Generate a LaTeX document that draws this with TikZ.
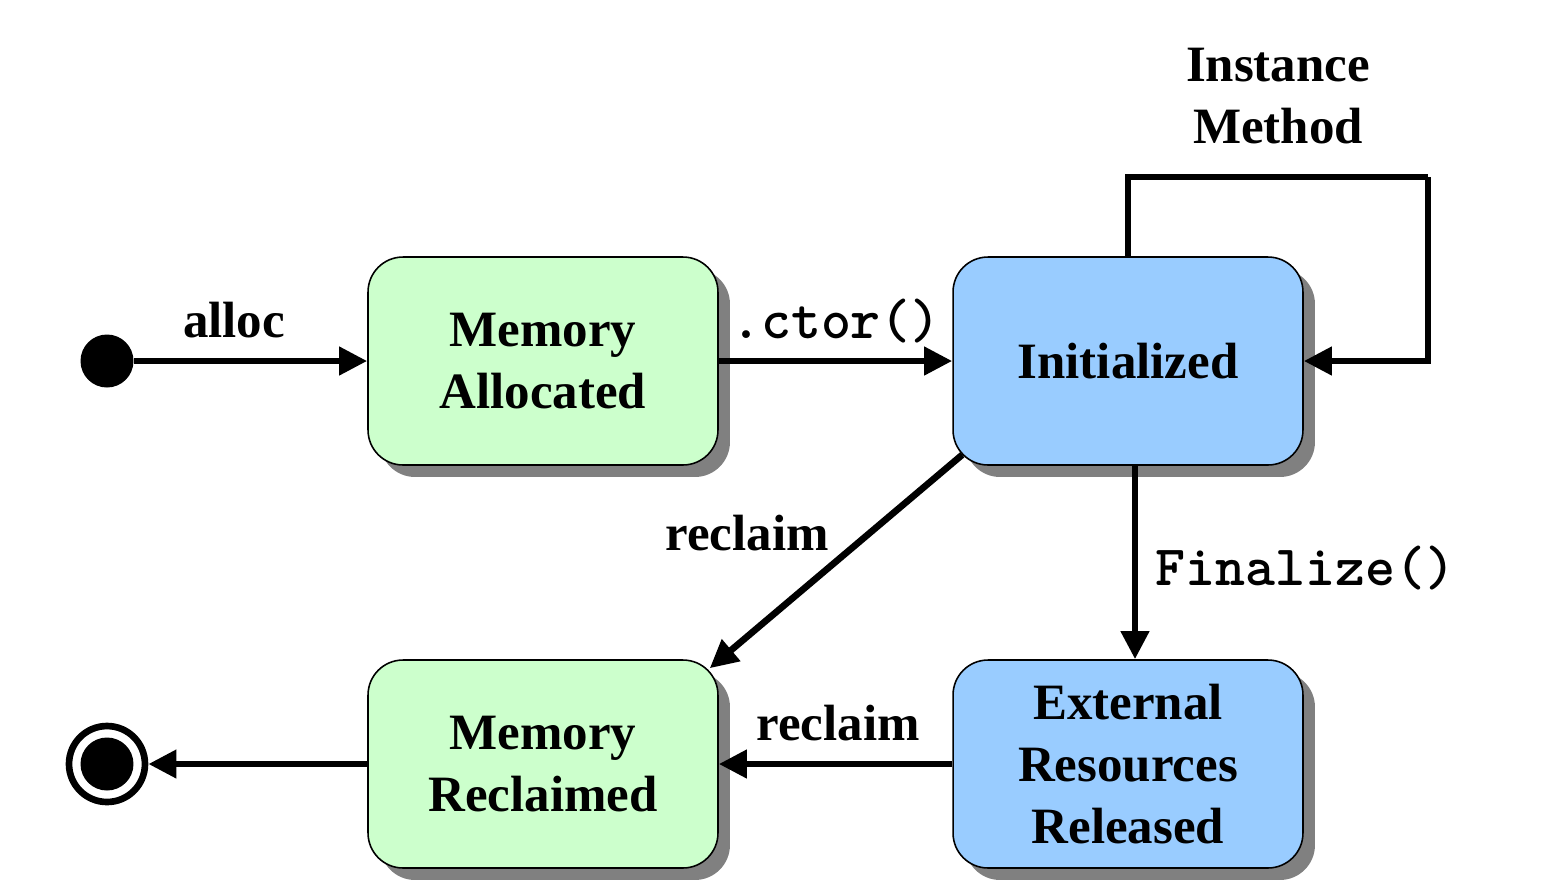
\documentclass[tikz,border=0pt]{standalone}
\usepackage{fontspec}
\setmainfont{Liberation Serif}
\usetikzlibrary{arrows.meta,shadows}
\definecolor{stgreen}{HTML}{CCFFCC}
\definecolor{stblue}{HTML}{99CCFF}
\definecolor{shadowgray}{HTML}{808080}
\begin{document}
\begin{tikzpicture}[x=0.02cm,y=-0.02cm,
  state/.style={draw=black, line width=0.9pt, rounded corners=0.7cm,
    minimum width=7cm, minimum height=4.16cm, inner sep=0pt, align=center,
    font=\fontsize{29}{35.3}\selectfont\bfseries,
    drop shadow={shadow xshift=0.24cm, shadow yshift=-0.24cm, fill=shadowgray, opacity=1}},
  greenstate/.style={state, fill=stgreen},
  bluestate/.style={state, fill=stblue},
  trans/.style={line width=3.8pt, -{Triangle[length=16pt,width=15.5pt]}},
  lbl/.style={font=\fontsize{29}{35.3}\selectfont\bfseries, inner sep=0pt, align=center},
  code/.style={font=\fontsize{32.5}{36}\selectfont\ttfamily\bfseries, inner sep=0pt}]
\useasboundingbox (0,0) rectangle (1563,894);
% states
\node[greenstate] (alloc) at (543,361) {Memory\\Allocated};
\node[bluestate] (initd) at (1128,361) {Initialized};
\node[bluestate] (ext) at (1128,764) {External\\Resources\\Released};
\node[greenstate] (rec) at (543,764) {Memory\\Reclaimed};
% pseudo states
\node[circle, fill=black, minimum size=1.06cm, inner sep=0pt] (start) at (107,361) {};
\node[circle, draw=black, line width=3.8pt, minimum size=1.52cm, inner sep=0pt] (fin) at (107,764) {};
\node[circle, fill=black, minimum size=1.06cm, inner sep=0pt] (finin) at (fin.center) {};
% transitions
\draw[trans] (start) -- (alloc.west);
\draw[trans] (alloc.east) -- (initd.west);
\coordinate (loopc) at (1428,177);
\draw[line width=3.8pt] (initd.north) |- (loopc);
\draw[trans] (loopc) |- (initd.east);
\draw[trans] ([xshift=0.14cm]initd.south) -- ([xshift=0.14cm]ext.north);
\draw[trans] ([shift={(10,-11)}]initd.south west) -- ([shift={(-9,9)}]rec.north east);
\draw[trans] (ext.west) -- (rec.east);
\draw[trans] (rec.west) -- (fin.east);
% labels
\node[lbl] (lalloc) at (234,320) {alloc};
\node[code] (lctor) at (836,321) {.ctor()};
\node[lbl] (linst) at (1278,96) {Instance\\Method};
\node[lbl] (lrec1) at (747,533) {reclaim};
\node[code, anchor=west] (lfin) at (1155,568) {Finalize()};
\node[lbl] (lrec2) at (838,723) {reclaim};
\end{tikzpicture}
\end{document}
